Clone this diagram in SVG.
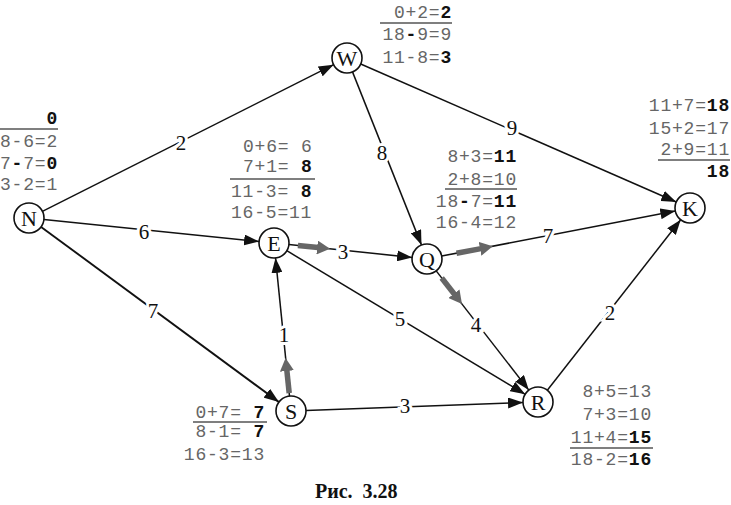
<svg xmlns="http://www.w3.org/2000/svg" width="731" height="505" viewBox="0 0 731 505">
<style>
.edge{stroke:#111;stroke-width:1.5;fill:none;marker-end:url(#ah)}
.crit{stroke:#666;stroke-width:5.5;fill:none;marker-end:url(#gh)}
.node circle{fill:#fff;stroke:#111;stroke-width:1.6}
.node text{font-family:"Liberation Serif",serif;font-size:22px;fill:#111;text-anchor:middle}
.lbl{font-family:"Liberation Serif",serif;font-size:21px;fill:#111;text-anchor:middle;stroke:#fff;stroke-width:6;paint-order:stroke}
.calc{font-family:"Liberation Mono",monospace;font-size:18px;fill:#666;letter-spacing:0.8px}
.calc .b{font-weight:bold;fill:#111}
.rule{stroke:#555;stroke-width:1.3}
.cap{font-family:"Liberation Serif",serif;font-size:20px;font-weight:bold;fill:#111;white-space:pre}
</style>
<defs>
<marker id="ah" markerUnits="userSpaceOnUse" markerWidth="16" markerHeight="11" refX="15" refY="5.5" orient="auto"><path d="M0,0 L15,5.5 L0,11 z" fill="#111"/></marker>
<marker id="gh" markerUnits="userSpaceOnUse" markerWidth="14" markerHeight="14" refX="1" refY="7" orient="auto"><path d="M0,0 L13,7 L0,14 z" fill="#666"/></marker>
</defs>
<rect width="731" height="505" fill="#fff"/>
<g id="connectors">
<line class="edge" x1="42.4" y1="211.3" x2="333.6" y2="64.7"/>
<line class="edge" x1="43.9" y1="219.5" x2="259.1" y2="241.5"/>
<line class="edge" x1="41.1" y1="226.9" x2="278.9" y2="402.1" style="stroke-width:1.9"/>
<line class="edge" x1="352.5" y1="71.9" x2="421.5" y2="245.1"/>
<line class="edge" x1="360.7" y1="64" x2="676.3" y2="202"/>
<line class="edge" x1="288.9" y1="244.6" x2="412.1" y2="257.4"/>
<line class="edge" x1="441.7" y1="256.1" x2="675.3" y2="210.9"/>
<line class="edge" x1="286.8" y1="250.7" x2="525.2" y2="394.3"/>
<line class="edge" x1="436.2" y1="270.9" x2="528.8" y2="390.1"/>
<line class="edge" x1="289.5" y1="396.1" x2="275.5" y2="257.9"/>
<line class="edge" x1="306" y1="410.5" x2="523" y2="402.5"/>
<line class="edge" x1="547.3" y1="390.2" x2="680.7" y2="219.8"/>
<line class="crit" x1="297.9" y1="245.5" x2="318.1" y2="247.6"/>
<line class="crit" x1="456.5" y1="253.3" x2="481" y2="248.6"/>
<line class="crit" x1="441.7" y1="278" x2="454.6" y2="294.5"/>
<line class="crit" x1="289.2" y1="393.1" x2="286.8" y2="370"/>
<text class="lbl" x="181" y="150">2</text>
<text class="lbl" x="144" y="239">6</text>
<text class="lbl" x="153" y="318">7</text>
<text class="lbl" x="382" y="160">8</text>
<text class="lbl" x="512" y="135">9</text>
<text class="lbl" x="343" y="259">3</text>
<text class="lbl" x="548" y="243">7</text>
<text class="lbl" x="400" y="326">5</text>
<text class="lbl" x="476" y="332">4</text>
<text class="lbl" x="284" y="342">1</text>
<text class="lbl" x="405" y="413">3</text>
<text class="lbl" x="610" y="320">2</text>
</g>
<g id="N" class="node"><circle cx="29" cy="218" r="15"/><text x="29" y="225.5">N</text></g>
<g id="W" class="node"><circle cx="347" cy="58" r="15"/><text x="347" y="65.5">W</text></g>
<g id="E" class="node"><circle cx="274" cy="243" r="15"/><text x="274" y="250.5">E</text></g>
<g id="Q" class="node"><circle cx="427" cy="259" r="15"/><text x="427" y="266.5">Q</text></g>
<g id="K" class="node"><circle cx="690" cy="208" r="15"/><text x="690" y="215.5">K</text></g>
<g id="S" class="node"><circle cx="291" cy="411" r="15"/><text x="291" y="418.5">S</text></g>
<g id="R" class="node"><circle cx="538" cy="402" r="15"/><text x="538" y="409.5">R</text></g>
<g id="calc-N" class="calc">
<text x="46.4" y="124"><tspan class="b">0</tspan></text>
<line class="rule" x1="0" y1="129" x2="58" y2="129"/>
<text x="0" y="147">8-6=2</text>
<text x="0" y="169">7<tspan class="b">-</tspan>7=<tspan class="b">0</tspan></text>
<text x="0" y="190">3-2=1</text>
</g>
<g id="calc-W" class="calc">
<text x="394" y="18">0+2=<tspan class="b">2</tspan></text>
<line class="rule" x1="380" y1="23" x2="452" y2="23"/>
<text x="382.4" y="40">18<tspan class="b">-</tspan>9=9</text>
<text x="382.4" y="63">11-8=<tspan class="b">3</tspan></text>
</g>
<g id="calc-E" class="calc">
<text x="243" y="152">0+6= 6</text>
<text x="243" y="172">7+1= <tspan class="b">8</tspan></text>
<line class="rule" x1="230" y1="179" x2="315" y2="179"/>
<text x="231" y="197">11-3= <tspan class="b">8</tspan></text>
<text x="231" y="218">16-5=11</text>
</g>
<g id="calc-Q" class="calc">
<text x="447.4" y="162">8+3=<tspan class="b">11</tspan></text>
<text x="447.4" y="185">2+8=10</text>
<line class="rule" x1="445" y1="189" x2="517" y2="189"/>
<text x="435.8" y="207">18<tspan class="b">-</tspan>7=<tspan class="b">11</tspan></text>
<text x="435.8" y="228">16-4=12</text>
</g>
<g id="calc-K" class="calc">
<text x="648.8" y="111">11+7=<tspan class="b">18</tspan></text>
<text x="648.8" y="134">15+2=17</text>
<text x="660.4" y="155">2+9=11</text>
<line class="rule" x1="658" y1="160" x2="730" y2="160"/>
<text x="706.8" y="177"><tspan class="b">18</tspan></text>
</g>
<g id="calc-S" class="calc">
<text x="195.4" y="418">0+7= <tspan class="b">7</tspan></text>
<line class="rule" x1="193" y1="422" x2="267" y2="422"/>
<text x="195.4" y="437">8-1= <tspan class="b">7</tspan></text>
<text x="183.8" y="460">16-3=13</text>
</g>
<g id="calc-R" class="calc">
<text x="582.4" y="397">8+5=13</text>
<text x="582.4" y="420">7+3=10</text>
<text x="570.8" y="443">11+4=<tspan class="b">15</tspan></text>
<line class="rule" x1="570" y1="448" x2="653" y2="448"/>
<text x="570.8" y="465">18-2=<tspan class="b">16</tspan></text>
</g>
<text class="cap" x="315" y="498">Рис.  3.28</text>
</svg>
